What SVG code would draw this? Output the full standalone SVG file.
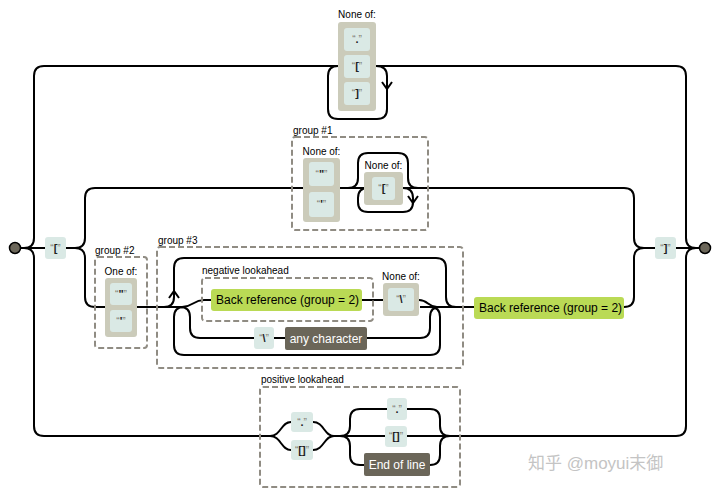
<svg xmlns="http://www.w3.org/2000/svg" width="720" height="496" viewBox="0 0 720 496">
<style>
text{font-family:"Liberation Sans",Arial,sans-serif;fill:#000}
.lbl{font-size:10px}
.lit{font-size:11px;text-anchor:middle;font-weight:bold;fill:#222}
.q{fill:#7d7a70;font-weight:normal;font-size:10px}
.big{font-size:12px}
.wt{font-size:12px;fill:#fff;text-anchor:middle}
.conn path{fill:none;stroke:#000;stroke-width:2}
.arr{fill:none;stroke:#000;stroke-width:2}
.litbox{fill:#dae9e5}
.setbox{fill:#cbcbba}
.esc{fill:#bada55}
.dark{fill:#6b6659}
.grp{fill:none;stroke:#908c83;stroke-width:2;stroke-dasharray:6,3}
.term{fill:#6b6659;stroke:#000;stroke-width:1.5}
</style>
<rect width="720" height="496" fill="#fff"/>
<g id="connectors" class="conn">
<path d="M20 248 H45"/>
<path d="M24 248 q10 0 10 -10 V76 q0 -10 10 -10 H338"/>
<path d="M376 66 H676 q10 0 10 10 V238 q0 10 10 10"/>
<path d="M376 66 q11 0 11 10 V109 q0 10 -10 10 H338 q-10 0 -10 -10 V76 q0 -10 10 -10"/>
<path d="M24 248 q10 0 10 10 V426 q0 10 10 10 H273"/>
<path d="M450 436 H676 q10 0 10 -10 V258 q0 -10 10 -10"/>
<path d="M66 248 H75"/>
<path d="M75 248 q10 0 10 -10 V198 q0 -10 10 -10 H303"/>
<path d="M75 248 q10 0 10 10 V297 q0 10 10 10 H105"/>
<path d="M340 188 H364"/>
<path d="M348 188 q10 0 10 -10 V163 q0 -10 10 -10 H398 q10 0 10 10 V178 q0 10 10 10"/>
<path d="M403 188 H624 q10 0 10 10 V238 q0 10 10 10 H655"/>
<path d="M403 188 q10 0 10 10 V202 q0 10 -10 10 H368 q-10 0 -10 -10 V198 q0 -10 10 -10"/>
<path d="M137 307 H184"/>
<path d="M164 307 q10 0 10 -10 V268 q0 -10 10 -10 H436 q10 0 10 10 V297 q0 10 10 10"/>
<path d="M430 307 q10 0 10 10 V345 q0 10 -10 10 H184 q-10 0 -10 -10 V317 q0 -10 10 -10"/>
<path d="M182 307 C193 307 193 300 204 300 H211"/>
<path d="M180 307 q10 0 10 10 V328 q0 10 10 10 H254"/>
<path d="M362 300 H383"/>
<path d="M419 300 C428 300 428 307 437 307"/>
<path d="M274 338 H285"/>
<path d="M367 338 H420 q10 0 10 -10 V317 q0 -10 10 -10"/>
<path d="M420 307 H474"/>
<path d="M624 307 q10 0 10 -10 V258 q0 -10 10 -10"/>
<path d="M675 248 H700"/>
<path d="M270 436 C281 436 281 422 291 422"/>
<path d="M270 436 C281 436 281 450 291 450"/>
<path d="M313 422 C324 422 324 436 334 436"/>
<path d="M313 450 C324 450 324 436 334 436 H385"/>
<path d="M340 436 q10 0 10 -10 V419 q0 -10 10 -10 H387"/>
<path d="M340 436 q10 0 10 10 V455 q0 10 10 10 H364"/>
<path d="M407 409 H430 q10 0 10 10 V426 q0 10 10 10"/>
<path d="M407 436 H450"/>
<path d="M430 465 q10 0 10 -10 V446 q0 -10 10 -10"/>
<path class="arr" d="M382 82 L387 89 L392 82"/>
<path class="arr" d="M408 196 L413 203 L418 196"/>
<path class="arr" d="M169 298 L174 291 L179 298"/>
</g>
<g id="start"><circle class="term" cx="15" cy="248" r="5.5"/></g>
<g id="end"><circle class="term" cx="705" cy="248" r="5.5"/></g>
<g id="lit-open">
<rect class="litbox" x="45" y="237" width="21" height="22" rx="3"/>
<text class="lit" x="55.5" y="252"><tspan class="q">“</tspan>[<tspan class="q">”</tspan></text>
</g>
<g id="lit-close">
<rect class="litbox" x="655" y="237" width="21" height="22" rx="3"/>
<text class="lit" x="665.5" y="252"><tspan class="q">“</tspan>]<tspan class="q">”</tspan></text>
</g>
<g id="top-noneof">
<text class="lbl" x="357" y="18" text-anchor="middle">None of:</text>
<rect class="setbox" x="338" y="22" width="38" height="89" rx="3"/>
<rect class="litbox" x="344" y="28" width="26" height="23" rx="3"/>
<text class="lit" x="357" y="43"><tspan class="q">“</tspan>.<tspan class="q">”</tspan></text>
<rect class="litbox" x="344" y="55" width="26" height="23" rx="3"/>
<text class="lit" x="357" y="70"><tspan class="q">“</tspan>[<tspan class="q">”</tspan></text>
<rect class="litbox" x="344" y="82" width="26" height="23" rx="3"/>
<text class="lit" x="357" y="97"><tspan class="q">“</tspan>]<tspan class="q">”</tspan></text>
</g>
<g id="group1">
<rect class="grp" x="292" y="137" width="136" height="93" rx="3"/>
<text class="lbl" x="293" y="134">group #1</text>
<text class="lbl" x="321.5" y="155" text-anchor="middle">None of:</text>
<rect class="setbox" x="303" y="158" width="37" height="64" rx="3"/>
<rect class="litbox" x="309" y="162" width="25" height="24" rx="3"/>
<text class="lit" x="321.5" y="178"><tspan class="q">“</tspan>"<tspan class="q">”</tspan></text>
<rect class="litbox" x="309" y="192" width="25" height="25" rx="3"/>
<text class="lit" x="321.5" y="208"><tspan class="q">“</tspan>'<tspan class="q">”</tspan></text>
<text class="lbl" x="383.5" y="169" text-anchor="middle">None of:</text>
<rect class="setbox" x="364" y="172" width="39" height="33" rx="3"/>
<rect class="litbox" x="372" y="177" width="23" height="23" rx="3"/>
<text class="lit" x="383.5" y="192"><tspan class="q">“</tspan>[<tspan class="q">”</tspan></text>
</g>
<g id="group2">
<rect class="grp" x="95" y="257" width="52" height="91" rx="3"/>
<text class="lbl" x="95" y="254">group #2</text>
<text class="lbl" x="121" y="275" text-anchor="middle">One of:</text>
<rect class="setbox" x="105" y="278" width="32" height="59" rx="3"/>
<rect class="litbox" x="110" y="283" width="22" height="22" rx="3"/>
<text class="lit" x="121" y="298"><tspan class="q">“</tspan>"<tspan class="q">”</tspan></text>
<rect class="litbox" x="110" y="310" width="22" height="22" rx="3"/>
<text class="lit" x="121" y="325"><tspan class="q">“</tspan>'<tspan class="q">”</tspan></text>
</g>
<g id="group3">
<rect class="grp" x="157" y="247" width="306" height="121" rx="3"/>
<text class="lbl" x="158" y="244">group #3</text>
</g>
<g id="neg-lookahead">
<rect class="grp" x="202" y="278" width="171" height="43" rx="3"/>
<text class="lbl" x="202" y="274">negative lookahead</text>
<rect class="esc" x="211" y="289" width="151" height="22" rx="3"/>
<text class="big" x="216" y="304">Back reference (group = 2)</text>
</g>
<g id="g3-noneof">
<text class="lbl" x="401" y="280" text-anchor="middle">None of:</text>
<rect class="setbox" x="383" y="283" width="36" height="33" rx="3"/>
<rect class="litbox" x="388" y="288" width="26" height="23" rx="3"/>
<text class="lit" x="401" y="303"><tspan class="q">“</tspan>\<tspan class="q">”</tspan></text>
</g>
<g id="g3-backslash">
<rect class="litbox" x="254" y="327" width="20" height="22" rx="3"/>
<text class="lit" x="264" y="342"><tspan class="q">“</tspan>\<tspan class="q">”</tspan></text>
</g>
<g id="any-char">
<rect class="dark" x="285" y="327" width="82" height="23" rx="2"/>
<text class="wt" x="326" y="343">any character</text>
</g>
<g id="backref">
<rect class="esc" x="474" y="297" width="150" height="22" rx="3"/>
<text class="big" x="479" y="312">Back reference (group = 2)</text>
</g>
<g id="pos-lookahead">
<rect class="grp" x="260" y="387" width="200" height="100" rx="3"/>
<text class="lbl" x="261" y="383">positive lookahead</text>
<rect class="litbox" x="291" y="412" width="22" height="20" rx="3"/>
<text class="lit" x="302" y="426"><tspan class="q">“</tspan>.<tspan class="q">”</tspan></text>
<rect class="litbox" x="291" y="440" width="22" height="20" rx="3"/>
<text class="lit" x="302" y="454"><tspan class="q">“</tspan>[]<tspan class="q">”</tspan></text>
<rect class="litbox" x="387" y="398" width="20" height="22" rx="3"/>
<text class="lit" x="397" y="413"><tspan class="q">“</tspan>.<tspan class="q">”</tspan></text>
<rect class="litbox" x="385" y="426" width="22" height="21" rx="3"/>
<text class="lit" x="396" y="440"><tspan class="q">“</tspan>[]<tspan class="q">”</tspan></text>
<rect class="dark" x="364" y="453" width="66" height="23" rx="2"/>
<text class="wt" x="397" y="469">End of line</text>
</g>
<text x="528" y="469" style="font-family:'Liberation Sans','Noto Sans CJK SC',sans-serif;font-size:17px;fill:#c4c4c4">知乎 @moyui末御</text>
</svg>
